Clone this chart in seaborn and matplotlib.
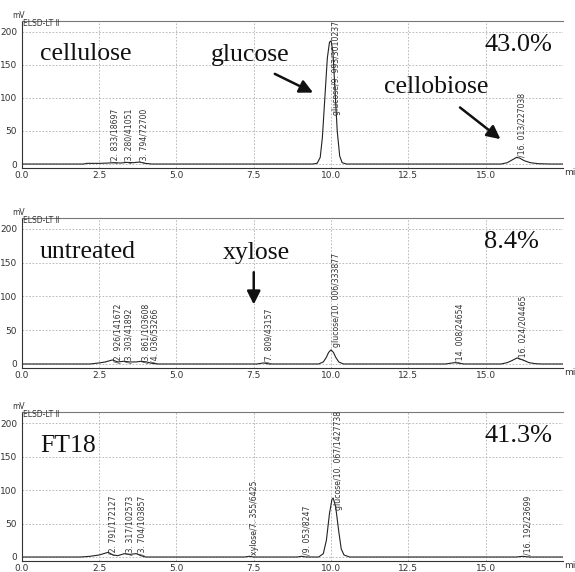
import numpy as np
import pandas as pd
import matplotlib
matplotlib.use('Agg')
import matplotlib.pyplot as plt
import seaborn as sns

# chromatogram traces (time in min, signal in mV)
cell_t = [0.0, 2.0, 2.1, 2.5, 2.8, 3.0, 3.2, 3.4, 3.6, 3.8, 4.0, 4.2, 9.4, 9.55, 9.65, 9.72, 9.8, 9.88, 9.95, 10.0,
          10.06, 10.13, 10.2, 10.28, 10.36, 10.5, 15.5, 15.7, 15.85, 16.0, 16.1, 16.25, 16.45, 16.7, 17.1, 17.5]
cell_y = [0.0, 0.0, 1.0, 1.0, 1.5, 2.0, 1.5, 2.5, 2.0, 3.0, 1.0, 0.0, 0.0, 1.0, 10.0, 40.0, 100.0, 160.0, 184.0, 186.0,
          170.0, 110.0, 50.0, 12.0, 2.0, 0.0, 0.0, 2.0, 6.0, 10.0, 9.0, 5.0, 2.0, 0.5, 0.0, 0.0]

untr_t = [0.0, 2.2, 2.5, 2.7, 2.93, 3.1, 3.3, 3.5, 3.7, 3.86, 4.04, 4.2, 4.4, 7.6, 7.81, 8.0, 9.6, 9.75, 9.85, 9.92,
          10.0, 10.08, 10.15, 10.25, 10.4, 13.7, 14.0, 14.3, 15.5, 15.7, 15.85, 16.02, 16.2, 16.4, 16.6, 16.8, 17.5]
untr_y = [0.0, 0.0, 1.5, 3.0, 6.0, 3.0, 4.0, 3.0, 3.0, 4.0, 3.0, 1.0, 0.0, 0.0, 1.5, 0.0, 0.0, 3.0, 10.0, 17.0,
          21.0, 17.0, 10.0, 3.0, 0.0, 0.0, 2.0, 0.0, 0.0, 2.0, 5.0, 9.0, 6.0, 2.0, 0.5, 0.0, 0.0]

ft18_t = [0.0, 1.9, 2.2, 2.5, 2.79, 2.95, 3.1, 3.32, 3.5, 3.7, 3.85, 4.0, 7.2, 7.36, 7.5, 8.9, 9.05, 9.2, 9.6,
          9.75, 9.85, 9.95, 10.03, 10.07, 10.15, 10.25, 10.33, 10.42, 10.6, 16.0, 16.19, 16.4, 17.5]
ft18_y = [0.0, 0.0, 1.0, 3.0, 7.0, 3.0, 2.0, 5.0, 4.0, 5.0, 2.0, 0.0, 0.0, 1.0, 0.0, 0.0, 1.0, 0.0, 0.0,
          5.0, 25.0, 65.0, 86.0, 88.0, 75.0, 38.0, 12.0, 3.0, 0.0, 0.0, 1.0, 0.0, 0.0]

# peak labels: retention time, label text, height of label foot
cell_rt = [2.833, 3.280, 3.794, 9.993, 16.013]
cell_lab = ['/2. 833/18697', '/3. 280/41051', '/3. 794/72700', 'glucose/9. 993/3010237', '/16. 013/227038']
cell_foot = [1, 1, 1, 74, 10]

untr_rt = [2.926, 3.303, 3.861, 4.036, 7.809, 10.006, 14.008, 16.024]
untr_lab = ['/2. 926/141672', '/3. 303/41892', '/3. 861/103608', '/4. 036/53266', '/7. 809/43157',
            'glucose/10. 006/333877', '/14. 008/24654', '/16. 024/204465']
untr_foot = [1, 1, 1, 1, 1, 25, 1, 6]

ft18_rt = [2.791, 3.317, 3.704, 7.355, 9.053, 10.067, 16.192]
ft18_lab = ['/2. 791/172127', '/3. 317/102573', '/3. 704/103857', 'xylose/7. 355/6425', '/9. 053/8247',
            'glucose/10. 067/1427738', '/16. 192/23699']
ft18_foot = [3, 3, 3, 3, 3, 70, 3]

# big annotations
sample_names = ['cellulose', 'untreated', 'FT18']
yields = ['43.0%', '8.4%', '41.3%']

x_ticks = [0.0, 2.5, 5.0, 7.5, 10.0, 12.5, 15.0]
y_ticks = [0, 50, 100, 150, 200]

sns.set_style('whitegrid')
plt.rcParams['font.family'] = ['Liberation Sans Narrow', 'DejaVu Sans']

fig = plt.figure(figsize=(5.75, 5.72), dpi=100)
boxes = [[0.038, 0.7063, 0.941, 0.257],
         [0.038, 0.3566, 0.941, 0.262],
         [0.038, 0.0192, 0.941, 0.260]]

traces = [(cell_t, cell_y), (untr_t, untr_y), (ft18_t, ft18_y)]
labels = [(cell_rt, cell_lab, cell_foot), (untr_rt, untr_lab, untr_foot), (ft18_rt, ft18_lab, ft18_foot)]
serif = 'Liberation Serif'
big = 18.5

axes = []
for i in range(3):
    ax = fig.add_axes(boxes[i])
    axes.append(ax)
    df = pd.DataFrame({'t': traces[i][0], 'mV': traces[i][1]})
    sns.lineplot(data=df, x='t', y='mV', ax=ax, color='#222222', linewidth=0.8, estimator=None, sort=False)
    ax.set_xlim(0, 17.5)
    ax.set_ylim(-6, 216)
    ax.set_xticks(x_ticks)
    ax.set_xticklabels([f'{v:.1f}' for v in x_ticks], fontsize=6.5)
    ax.set_yticks(y_ticks)
    ax.set_yticklabels([str(v) for v in y_ticks], fontsize=6.5)
    ax.set_xticks(np.arange(0, 17.5, 0.5), minor=True)
    ax.set_yticks(np.arange(0, 210, 10), minor=True)
    ax.set_xlabel('')
    ax.set_ylabel('')
    ax.grid(True, which='major', linestyle=(0, (2, 2)), color='#b0b0b0', linewidth=0.6)
    ax.axvline(17.5, linestyle=(0, (2, 2)), color='#b0b0b0', linewidth=0.6)
    ax.tick_params(axis='both', which='major', length=3, width=0.7, color='#333333', pad=0.5, labelcolor='#333333')
    ax.tick_params(axis='both', which='minor', length=2, width=0.5, color='#333333')
    ax.tick_params(axis='x', which='both', direction='inout')
    ax.spines['right'].set_visible(False)
    ax.spines['top'].set_color('#777777')
    ax.spines['left'].set_color('#333333')
    ax.spines['bottom'].set_color('#333333')
    for s in ['top', 'left', 'bottom']:
        ax.spines[s].set_linewidth(0.8)
    ax.text(17.55, -6, 'min', fontsize=6.5, color='#333333', ha='left', va='top')
    ax.text(-0.3, 218, 'mV', fontsize=5.5, color='#333333', ha='left', va='bottom')
    ax.text(0.05, 212, 'ELSD-LT Ⅱ', fontsize=5.5, color='#333333', ha='left', va='center')
    rt, lab, foot = labels[i]
    for r, l, f in zip(rt, lab, foot):
        # the 4.036 label sits a bit further right in the original
        dx = 0.27 if r == 4.036 else 0.17
        ax.text(r + dx, f, l, rotation=90, ha='center', va='bottom', fontsize=5.6, color='#333333')
    ax.text(0.58, 166, sample_names[i], family=serif, fontsize=big, ha='left', va='center', color='#111111')
    ax.text(14.95, 180, yields[i], family=serif, fontsize=19, ha='left', va='center', color='#111111')

arrow = dict(arrowstyle='-|>,head_length=0.8,head_width=0.4', color='#111111', linewidth=1.8)
axes[0].text(6.1, 164, 'glucose', family=serif, fontsize=big, ha='left', va='center', color='#111111')
axes[0].annotate('', xy=(9.5, 106), xytext=(8.1, 138), arrowprops=arrow)
axes[0].text(11.7, 117, 'cellobiose', family=serif, fontsize=big, ha='left', va='center', color='#111111')
axes[0].annotate('', xy=(15.55, 35), xytext=(14.1, 88), arrowprops=arrow)
axes[1].text(6.5, 164, 'xylose', family=serif, fontsize=big, ha='left', va='center', color='#111111')
axes[1].annotate('', xy=(7.5, 84), xytext=(7.5, 140), arrowprops=arrow)

fig.savefig('out.png', dpi=100)
